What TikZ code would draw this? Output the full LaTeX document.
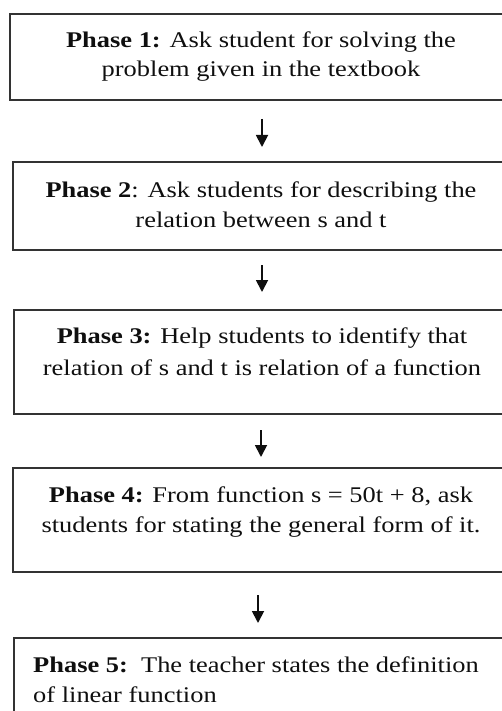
\documentclass[tikz,border=0pt]{standalone}
\usepackage{fontspec}
\setmainfont{Liberation Serif}[FakeStretch=1.18]
\usetikzlibrary{arrows.meta}
\definecolor{boxline}{HTML}{333333}
\definecolor{ink}{HTML}{0F0F0F}
\tikzset{
  phasebox/.style={draw=boxline, line width=2pt, inner sep=0pt, minimum width=506pt, anchor=north west},
  linetext/.style={anchor=base, inner sep=0pt, text=ink, font=\fontsize{22.4}{29}\selectfont},
  lefttext/.style={linetext, anchor=base west},
  flowarrow/.style={line width=1.8pt, draw=ink, -{Triangle[length=12pt,width=12pt]}},
}
\begin{document}
\begin{tikzpicture}[x=1pt,y=-1pt]
\useasboundingbox (0,0) rectangle (502,711);
\clip (0,0) rectangle (502,711);
% boxes
\node[phasebox, minimum height=86pt] (b1) at (9,13) {};
\node[phasebox, minimum height=88pt] (b2) at (12,161) {};
\node[phasebox, minimum height=104pt] (b3) at (13,309) {};
\node[phasebox, minimum height=104pt] (b4) at (12,467) {};
\node[phasebox, minimum height=130pt] (b5) at (13,637) {};
% texts
\node[linetext] (t1a) at (261,48) {\textbf{Phase 1:} Ask student for solving the};
\node[linetext] (t1b) at (261,77) {problem given in the textbook};
\node[linetext] (t2a) at (261,198) {\textbf{Phase 2}: Ask students for describing the};
\node[linetext] (t2b) at (261,228) {relation between s and t};
\node[linetext] (t3a) at (262,343) {\textbf{Phase 3:} Help students to identify that};
\node[linetext] (t3b) at (262,375) {relation of s and t is relation of a function};
\node[linetext] (t4a) at (261,502) {\textbf{Phase 4:} From function s = 50t + 8, ask};
\node[linetext] (t4b) at (261,532) {students for stating the general form of it.};
\node[lefttext] (t5a) at (33,672) {\textbf{Phase 5:}\ \ The teacher states the definition};
\node[lefttext] (t5b) at (33,702) {of linear function};
% arrow x positions
\coordinate (ax1) at (262,0);
\coordinate (ax2) at (262,0);
\coordinate (ax3) at (261,0);
\coordinate (ax4) at (258,0);
\draw[flowarrow, shorten <=18pt, shorten >=14pt] (b1.south -| ax1) -- (b2.north -| ax1);
\draw[flowarrow, shorten <=14pt, shorten >=17pt] (b2.south -| ax2) -- (b3.north -| ax2);
\draw[flowarrow, shorten <=15pt, shorten >=10pt] (b3.south -| ax3) -- (b4.north -| ax3);
\draw[flowarrow, shorten <=22pt, shorten >=14pt] (b4.south -| ax4) -- (b5.north -| ax4);
\end{tikzpicture}
\end{document}
